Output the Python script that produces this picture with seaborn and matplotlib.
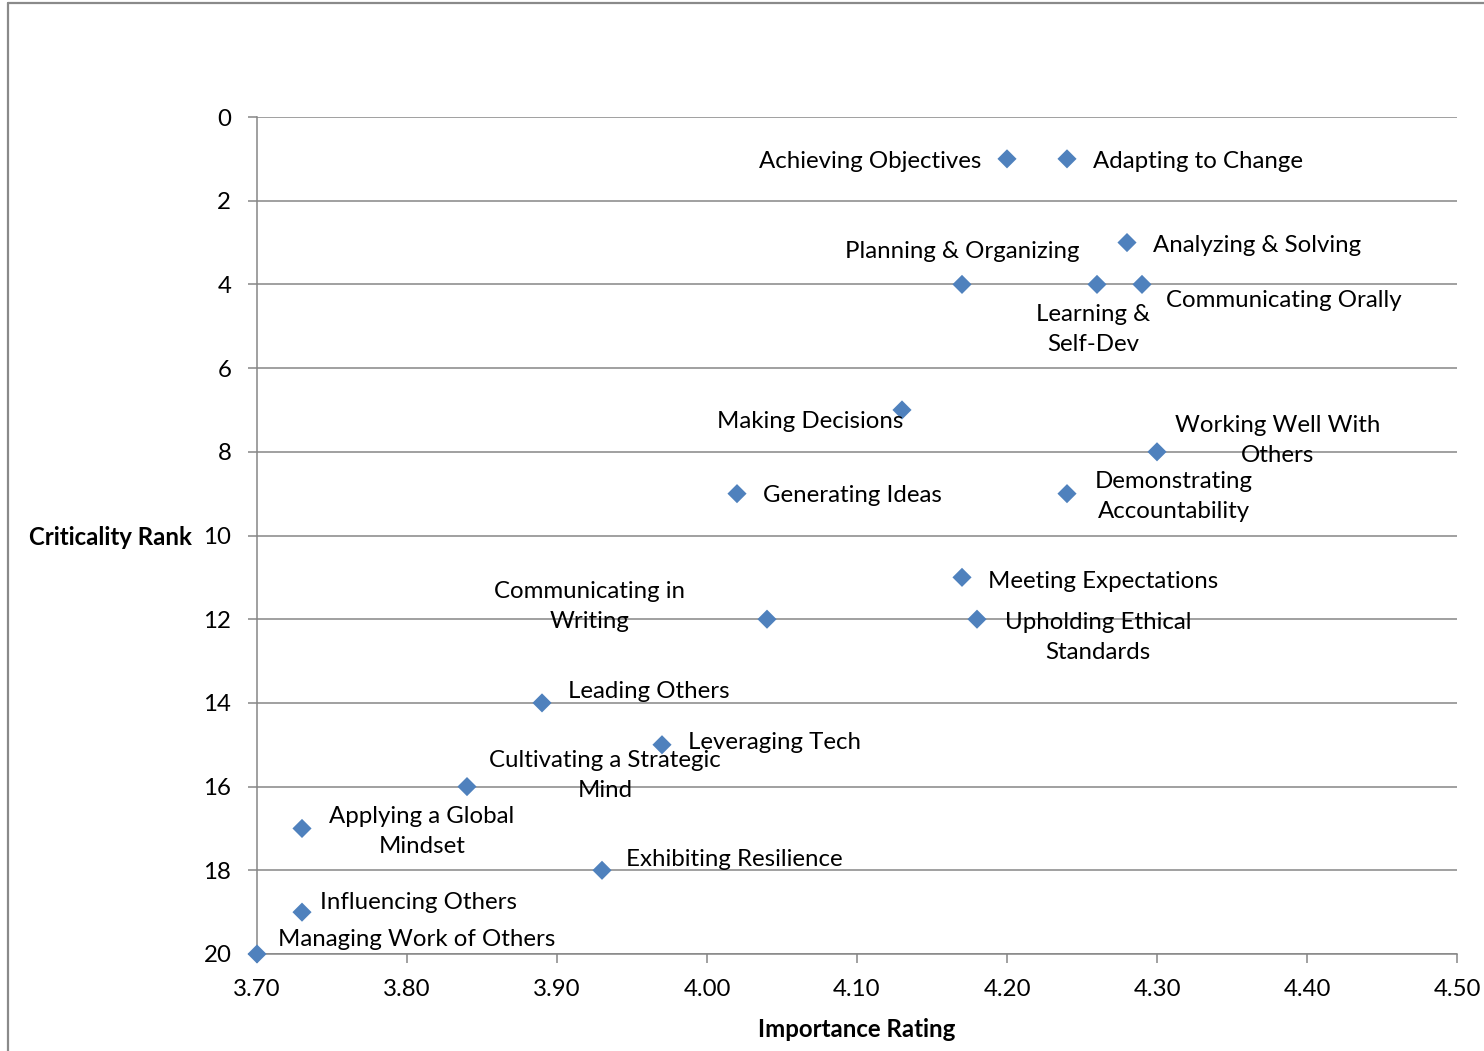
import matplotlib
matplotlib.use("Agg")
import matplotlib.pyplot as plt
import seaborn as sns
import pandas as pd
from matplotlib.lines import Line2D

# ---- data ----
competencies = [
    "Achieving Objectives", "Adapting to Change", "Analyzing & Solving",
    "Planning & Organizing", "Learning &\nSelf-Dev", "Communicating Orally",
    "Making Decisions", "Working Well With\nOthers", "Generating Ideas",
    "Demonstrating\nAccountability", "Meeting Expectations",
    "Communicating in\nWriting", "Upholding Ethical\nStandards",
    "Leading Others", "Leveraging Tech", "Cultivating a Strategic\nMind",
    "Applying a Global\nMindset", "Exhibiting Resilience",
    "Influencing Others", "Managing Work of Others",
]
importance = [4.20, 4.24, 4.28, 4.17, 4.26, 4.29, 4.13, 4.30, 4.02, 4.24,
              4.17, 4.04, 4.18, 3.89, 3.97, 3.84, 3.73, 3.93, 3.73, 3.70]
rank = [1, 1, 3, 4, 4, 4, 7, 8, 9, 9, 11, 12, 12, 14, 15, 16, 17, 18, 19, 20]

x_ticks = [3.70, 3.80, 3.90, 4.00, 4.10, 4.20, 4.30, 4.40, 4.50]
y_ticks = [0, 2, 4, 6, 8, 10, 12, 14, 16, 18, 20]

# label placement (pixel offsets from marker, alignment)
label_style = [
    (-26, -3, "right"), (26, -3, "left"), (26, -3, "left"),
    (0, 33, "center"), (-4, -45, "center"), (24, -16, "left"),
    (1, -12, "right"), (121, 11, "center"), (26, -2, "left"),
    (107, -3, "center"), (26, -4, "left"), (-177, 13, "center"),
    (121, -18, "center"), (26, 11, "left"), (26, 2, "left"),
    (138, 11, "center"), (120, -3, "center"), (24, 11, "left"),
    (18, 10, "left"), (21, 14, "left"),
]

df = pd.DataFrame({"Importance Rating": importance, "Criticality Rank": rank,
                   "Competency": competencies})

sns.set_theme(style="white")
FONT = ["Lato", "DejaVu Sans"]
plt.rcParams["font.family"] = FONT
plt.rcParams["text.color"] = "black"
plt.rcParams["axes.labelcolor"] = "black"
FS = 17.3

fig = plt.figure(figsize=(14.84, 10.51), dpi=100)
ax = fig.add_axes([257 / 1484, 97 / 1051, 1200 / 1484, 837 / 1051])

GRID = "#868686"
sns.scatterplot(data=df, x="Importance Rating", y="Criticality Rank", ax=ax,
                marker="D", s=95, color="#4F81BD", edgecolor="none", zorder=3,
                clip_on=False)

ax.set_xlim(3.70, 4.50)
ax.set_ylim(20, 0)
ax.set_xticks(x_ticks)
ax.set_xticklabels([f"{v:.2f}" for v in x_ticks])
ax.set_yticks(y_ticks)
ax.set_yticklabels([str(v) for v in y_ticks])

ax.yaxis.grid(True, color=GRID, linewidth=1.1)
ax.set_axisbelow(True)
for side in ["top", "right"]:
    ax.spines[side].set_visible(False)
for side in ["left", "bottom"]:
    ax.spines[side].set_color(GRID)
    ax.spines[side].set_linewidth(1.1)

ax.tick_params(axis="both", which="major", labelsize=FS, labelcolor="black",
               length=6.5, width=1.1)
ax.tick_params(axis="x", direction="out", pad=11.5, color=GRID, bottom=True)
ax.tick_params(axis="y", direction="out", pad=12, color=GRID, left=True)

ax.set_xlabel("Importance Rating", fontsize=FS, fontweight="bold", va="center",
              color="black")
ax.set_ylabel("Criticality Rank", fontsize=FS, fontweight="bold",
              rotation=0, ha="right", va="center", color="black")
ax.xaxis.set_label_coords(0.5, -0.0908)
ax.yaxis.set_label_coords(-0.054, 0.498)

for name, xv, yv, (dx, dy, ha) in zip(competencies, importance, rank, label_style):
    ax.annotate(name, (xv, yv), xytext=(dx, dy), textcoords="offset pixels",
                ha=ha, va="center", fontsize=FS, multialignment="center",
                linespacing=1.55, annotation_clip=False, zorder=4,
                color="black")

# outer frame (partially visible)
fig.add_artist(Line2D([8 / 1484, 8 / 1484], [0, 1 - 3 / 1051],
                      transform=fig.transFigure, color="#8a8a8a", linewidth=1.6))
fig.add_artist(Line2D([8 / 1484, 1], [1 - 3 / 1051, 1 - 3 / 1051],
                      transform=fig.transFigure, color="#8a8a8a", linewidth=1.6))

fig.savefig("out.png", dpi=100)
